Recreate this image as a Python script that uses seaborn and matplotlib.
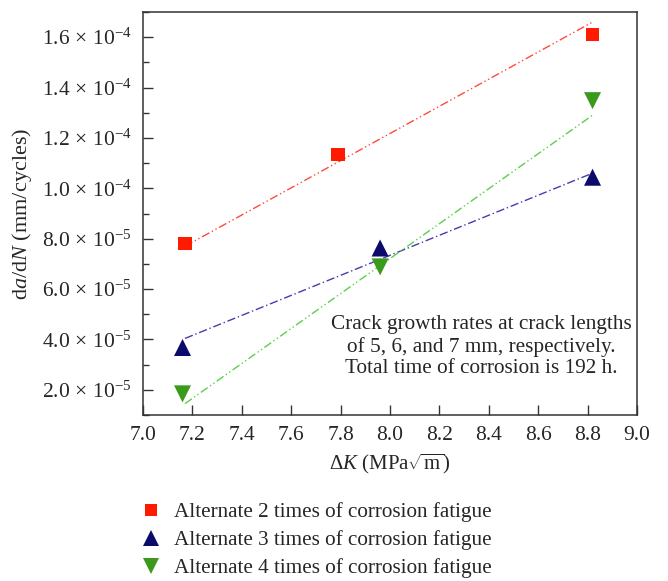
import numpy as np
import pandas as pd
import seaborn as sns
import matplotlib.pyplot as plt
from matplotlib.ticker import FuncFormatter, MultipleLocator
from matplotlib.lines import Line2D

# data
delta_k_2 = [7.17, 7.79, 8.82]
rate_2 = [7.8e-5, 1.135e-4, 1.61e-4]
delta_k_3 = [7.16, 7.96, 8.82]
rate_3 = [3.68e-5, 7.63e-5, 1.044e-4]
delta_k_4 = [7.16, 7.96, 8.82]
rate_4 = [1.84e-5, 6.88e-5, 1.348e-4]

# trend lines (end points)
fit_x = [7.17, 8.82]
fit_2 = [7.7e-5, 1.66e-4]
fit_3 = [4.04e-5, 1.06e-4]
fit_4 = [1.45e-5, 1.29e-4]

labels = ['Alternate 2 times of corrosion fatigue',
          'Alternate 3 times of corrosion fatigue',
          'Alternate 4 times of corrosion fatigue']

sns.set_style('ticks')
plt.rcParams['font.family'] = ['Liberation Serif', 'DejaVu Serif']
plt.rcParams['mathtext.fontset'] = 'custom'
plt.rcParams['mathtext.rm'] = 'Liberation Serif'
plt.rcParams['mathtext.it'] = 'Liberation Serif:italic'

pts = pd.DataFrame({
    'dK': delta_k_2 + delta_k_3 + delta_k_4,
    'rate': rate_2 + rate_3 + rate_4,
    'series': [labels[0]] * 3 + [labels[1]] * 3 + [labels[2]] * 3,
})
fits = pd.DataFrame({
    'dK': fit_x * 3,
    'rate': fit_2 + fit_3 + fit_4,
    'series': [labels[0]] * 2 + [labels[1]] * 2 + [labels[2]] * 2,
})

mk_colors = ['#ff1a00', '#0c0a6b', '#3a9a1c']
ln_colors = ['#ff4a3a', '#4a3ab0', '#5ad04a']
markers = ['s', '^', 'v']
sizes = [95, 150, 150]
dashes = [(6, 2, 1, 2, 1, 2), (6, 2, 1, 2), (6, 2, 1, 2, 1, 2)]

fig = plt.figure(figsize=(6.68, 5.81), dpi=100)
ax = fig.add_axes([143 / 668, 1 - 415 / 581, 494 / 668, 403 / 581])

for i, lab in enumerate(labels):
    sub = fits[fits['series'] == lab]
    sns.lineplot(data=sub, x='dK', y='rate', ax=ax, color=ln_colors[i],
                 lw=1.0, dashes=False, legend=False)
    ax.lines[-1].set_dashes(dashes[i])
for i, lab in enumerate(labels):
    sub = pts[pts['series'] == lab]
    sns.scatterplot(data=sub, x='dK', y='rate', ax=ax, color=mk_colors[i],
                    marker=markers[i], s=sizes[i], edgecolor='none',
                    legend=False, zorder=3)

ax.set_xlim(7.0, 9.0)
ax.set_ylim(1.0e-5, 1.7e-4)
ax.xaxis.set_major_locator(MultipleLocator(0.2))
ax.yaxis.set_major_locator(MultipleLocator(2e-5))
ax.yaxis.set_minor_locator(MultipleLocator(1e-5))


def sci(v, pos):
    if v <= 0:
        return ''
    e = int(np.floor(np.log10(v) + 1e-9))
    m = v / 10 ** e
    return r'$%.1f\,\times\,10^{%d}$' % (m, e)


ax.yaxis.set_major_formatter(FuncFormatter(sci))
ax.xaxis.set_major_formatter(FuncFormatter(lambda v, p: '%.1f' % v))
ax.tick_params(axis='both', which='major', direction='in', length=7,
               width=1, labelsize=15.5, color='#333333', pad=8)
ax.tick_params(axis='y', which='minor', direction='in', length=4,
               width=1, color='#333333')
for s in ax.spines.values():
    s.set_color('#333333')
    s.set_linewidth(1.1)

ax.set_xlabel(r'$\Delta \mathit{K}$ (MPa$\sqrt{\mathrm{m}}$)', fontsize=15,
              labelpad=5)
ax.set_ylabel(r'd$\mathit{a}$/d$\mathit{N}$ (mm/cycles)', fontsize=16,
              labelpad=6)

ax.text(8.37, 3.72e-5,
        'Crack growth rates at crack lengths\nof 5, 6, and 7 mm, respectively.\n'
        'Total time of corrosion is 192 h.',
        ha='center', va='center', fontsize=15.3, linespacing=1.15)

handles = [Line2D([], [], ls='none', marker=markers[i], color=mk_colors[i],
                  markersize=[9, 11, 11][i], markeredgewidth=0)
           for i in range(3)]
fig.legend(handles, labels, loc='upper left',
           bbox_to_anchor=(132 / 668, 1 - 494 / 581), frameon=False,
           fontsize=15.2, handlelength=1.0, handletextpad=0.6,
           labelspacing=0.38, borderaxespad=0)

fig.savefig('out.png', dpi=100)
